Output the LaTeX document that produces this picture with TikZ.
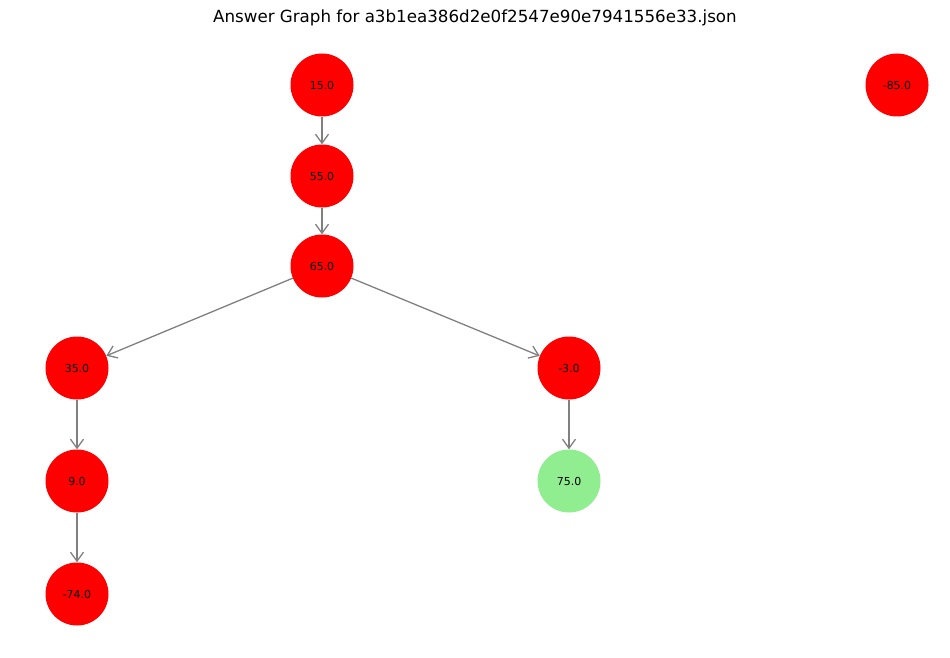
\documentclass[tikz,border=0pt]{standalone}
\usepackage{fontspec}
\setmainfont{DejaVu Sans}
\usetikzlibrary{arrows.meta}
\definecolor{nxred}{HTML}{FF0000}
\definecolor{nxgreen}{HTML}{90EE90}
\definecolor{nxgray}{HTML}{808080}
\begin{document}
\begin{tikzpicture}[x=1pt,y=-1pt,
  vertex/.style={circle,fill=nxred,minimum size=63pt,inner sep=0pt,font=\fontsize{11}{13}\selectfont},
  goal/.style={vertex,fill=nxgreen},
  edge/.style={draw=nxgray,line width=1.3pt,-{Straight Barb[length=9pt,width=13pt,line width=1.3pt]}}]
\useasboundingbox (0,0) rectangle (950,658);

\node (title) at (475,18) {\fontsize{16.7}{19}\selectfont Answer Graph for a3b1ea386d2e0f2547e90e7941556e33.json};

\node[vertex] (n15) at (322,85) {15.0};
\node[vertex] (n55) at (322,176) {55.0};
\node[vertex] (n65) at (322,266) {65.0};
\node[vertex] (n35) at (77,368) {35.0};
\node[vertex] (nm3) at (569,368) {-3.0};
\node[vertex] (n9) at (77,481) {9.0};
\node[goal] (n75) at (569,481) {75.0};
\node[vertex] (nm74) at (77,594) {-74.0};
\node[vertex] (nm85) at (897,85) {-85.0};

\draw[edge] (n15) -- (n55);
\draw[edge] (n55) -- (n65);
\draw[edge] (n65) -- (n35);
\draw[edge] (n65) -- (nm3);
\draw[edge] (n35) -- (n9);
\draw[edge] (n9) -- (nm74);
\draw[edge] (nm3) -- (n75);
\end{tikzpicture}
\end{document}
